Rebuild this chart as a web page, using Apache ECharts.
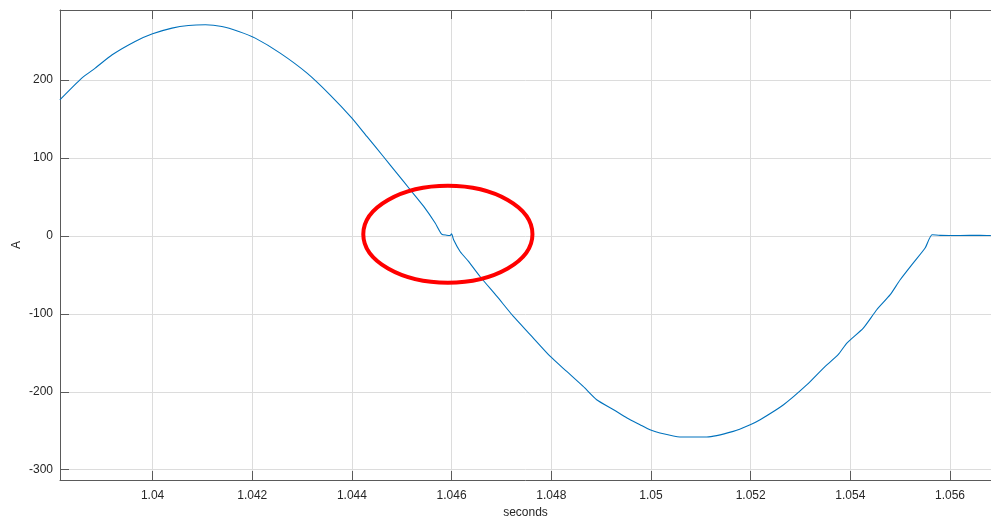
<!DOCTYPE html>
<html>
<head>
<meta charset="utf-8">
<script src="https://cdn.jsdelivr.net/npm/echarts@6/dist/echarts.min.js"></script>
<style>
	html, body { margin: 0; padding: 0; background: #fff; }
	#main { width: 991px; height: 521px; }
</style>
</head>
<body>
<div id="main"></div>
<script>
// time (s) and current (A)
var times = [1.03814, 1.03858, 1.03885, 1.03919, 1.03965, 1.04000, 1.04039, 1.04072, 1.04106, 1.04139,
	1.04173, 1.04206, 1.04256, 1.04310, 1.04356, 1.04400, 1.04430, 1.04463, 1.04490, 1.04517,
	1.04544, 1.04567, 1.04580, 1.04590, 1.04597, 1.04600, 1.04604, 1.04617, 1.04634, 1.04657,
	1.04691, 1.04724, 1.04758, 1.04798, 1.04831, 1.04864, 1.04891, 1.04925, 1.04952, 1.04978,
	1.04998, 1.05018, 1.05058, 1.05112, 1.05165, 1.05199, 1.05219, 1.05266, 1.05313, 1.05346,
	1.05376, 1.05393, 1.05426, 1.05453, 1.05480, 1.05500, 1.05526, 1.05550, 1.05564, 1.05580,
	1.05620, 1.05660, 1.05682];
var amps = [174.7, 202.6, 215.4, 232.5, 249.6, 259.4, 266.7, 270.1, 271.0, 268.8,
	262.4, 253.9, 234.7, 209.0, 181.2, 151.3, 127.7, 102.0, 80.7, 59.3,
	37.9, 16.6, 2.4, 1.0, 0.6, 2.8, -4.9, -19.9, -32.7, -52.0,
	-77.6, -103.3, -126.8, -154.6, -173.9, -193.1, -210.2, -223.0, -233.6, -242.2,
	-248.7, -252.9, -258.0, -258.0, -250.8, -242.2, -235.8, -216.6, -190.9, -169.5,
	-152.0, -137.4, -118.2, -94.7, -75.4, -56.2, -34.8, -15.5, 1.5, 0.8,
	0.5, 0.9, 0.6];
var xTicks = [1.04, 1.042, 1.044, 1.046, 1.048, 1.05, 1.052, 1.054, 1.056];
var yTicks = [-300, -200, -100, 0, 100, 200];
// highlighted region (centre and half-widths in data units)
var mark = { x: 1.045925, y: 2.2, rx: 0.001697, ry: 62.2 };

var xMin = 1.038143, xMax = 1.056822;
var yMin = -313.2, yMax = 290;

var font = '"Liberation Sans", Arial, sans-serif';
var axisColor = '#5a5a5a';
var gridColor = '#dcdcdc';

var pts = [];
for (var i = 0; i < times.length; i++) {
	pts.push([times[i], amps[i]]);
}

var myChart = echarts.init(document.getElementById('main'));
var option = {
	animation: false,
	backgroundColor: '#ffffff',
	grid: { left: 60, top: 10, right: 0, bottom: 41, containLabel: false, outerBoundsMode: 'none' },
	xAxis: [{
		type: 'value',
		min: xMin,
		max: xMax,
		splitNumber: 9,
		minInterval: 0.002,
		maxInterval: 0.002,
		name: 'seconds',
		nameLocation: 'middle',
		nameGap: 27,
		nameTextStyle: { color: '#262626', fontSize: 12, fontFamily: font },
		axisLine: { show: true, onZero: false, lineStyle: { color: axisColor, width: 1 } },
		axisTick: { inside: true, length: 9, lineStyle: { color: axisColor } },
		axisLabel: {
			color: '#262626', fontSize: 12, fontFamily: font, margin: 10,
			showMinLabel: false, showMaxLabel: false,
			formatter: function(v) {
				return xTicks.indexOf(Math.round(v * 1000) / 1000) >= 0 ? String(Math.round(v * 1000) / 1000) : '';
			}
		},
		splitLine: { show: true, lineStyle: { color: gridColor, width: 1 } }
	}, {
		type: 'value',
		position: 'top',
		min: xMin,
		max: xMax,
		splitNumber: 9,
		minInterval: 0.002,
		maxInterval: 0.002,
		axisLine: { show: true, onZero: false, lineStyle: { color: axisColor, width: 1 } },
		axisTick: { inside: true, length: 9, lineStyle: { color: axisColor } },
		axisLabel: { show: false },
		splitLine: { show: false }
	}],
	yAxis: [{
		type: 'value',
		min: yMin,
		max: yMax,
		minInterval: 100,
		maxInterval: 100,
		name: 'A',
		nameLocation: 'middle',
		nameGap: 37,
		nameMoveOverlap: false,
		nameTextStyle: { color: '#262626', fontSize: 12, fontFamily: font },
		axisLine: { show: true, onZero: false, lineStyle: { color: axisColor, width: 1 } },
		axisTick: { inside: true, length: 9, lineStyle: { color: axisColor } },
		axisLabel: {
			color: '#262626', fontSize: 12, fontFamily: font, margin: 7,
			showMinLabel: false, showMaxLabel: false,
			formatter: function(v) {
				return yTicks.indexOf(Math.round(v)) >= 0 && Math.abs(v - Math.round(v)) < 1e-6 ? String(Math.round(v)) : '';
			}
		},
		splitLine: { show: true, lineStyle: { color: gridColor, width: 1 } }
	}],
	series: [{
		name: 'current',
		type: 'line',
		xAxisIndex: 0,
		yAxisIndex: 0,
		data: pts,
		showSymbol: false,
		symbol: 'none',
		smooth: 0.2,
		lineStyle: { color: '#0072BD', width: 1.1 },
		z: 3
	}]
};
myChart.setOption(option);

// red ellipse around the glitch, placed through the axes
var c = myChart.convertToPixel({ xAxisIndex: 0, yAxisIndex: 0 }, [mark.x, mark.y]);
var e = myChart.convertToPixel({ xAxisIndex: 0, yAxisIndex: 0 }, [mark.x + mark.rx, mark.y + mark.ry]);
myChart.setOption({
	graphic: [{
		type: 'ellipse',
		shape: { cx: c[0], cy: c[1], rx: Math.abs(e[0] - c[0]), ry: Math.abs(c[1] - e[1]) },
		style: { fill: null, stroke: '#ff0000', lineWidth: 4 },
		z: 10
	}]
});
</script>
</body>
</html>
